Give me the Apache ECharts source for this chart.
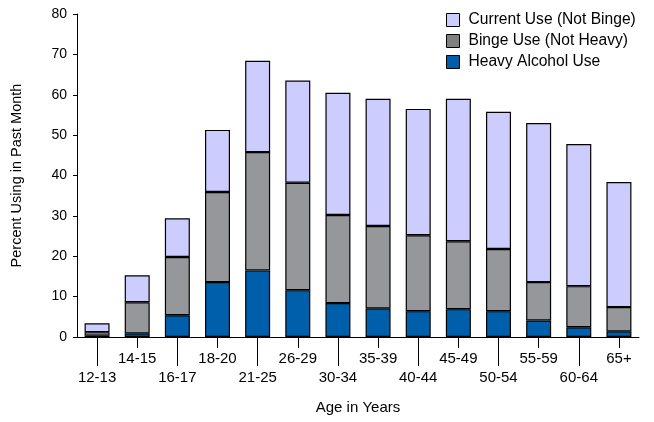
<!DOCTYPE html>
<html>
<head>
<meta charset="utf-8">
<script src="https://cdn.jsdelivr.net/npm/echarts@6/dist/echarts.min.js"></script>
<style>
html,body{margin:0;padding:0;background:#fff;}
#chart{width:654px;height:422px;}
</style>
</head>
<body>
<div id="chart"></div>
<script>
const categories = ['12-13','14-15','16-17','18-20','21-25','26-29','30-34','35-39','40-44','45-49','50-54','55-59','60-64','65+'];
const heavyUse   = [0.3, 0.9, 5.4, 13.6, 16.5, 11.6, 8.4, 7.1, 6.4, 6.9, 6.4, 4.1, 2.4, 1.4];
const bingeUse   = [0.9, 7.7, 14.4, 22.3, 29.3, 26.6, 21.8, 20.4, 18.8, 16.8, 15.4, 9.5, 10.2, 6.0];
const currentUse = [2.2, 6.7, 9.6, 15.4, 22.6, 25.3, 30.3, 31.5, 31.3, 35.3, 34.0, 39.4, 35.2, 31.0];
const yTicks = [0, 10, 20, 30, 40, 50, 60, 70, 80];

const FONT = 'Liberation Sans, Arial, sans-serif';
const chart = echarts.init(document.getElementById('chart'), null, {renderer: 'canvas'});
const border = {borderColor: '#000', borderWidth: 1.2};

chart.setOption({
  animation: false,
  backgroundColor: '#fff',
  grid: {left: 77, right: 15, top: 14, bottom: 85, containLabel: false},
  legend: {
    orient: 'vertical',
    left: 441,
    top: 7,
    itemWidth: 13,
    itemHeight: 13,
    itemGap: 5,
    icon: 'rect',
    textStyle: {fontFamily: FONT, fontSize: 15.6, color: '#000', padding: [0, 0, 0, 4]},
    data: [
      {name: 'Current Use (Not Binge)', itemStyle: {color: '#CCCCFF', borderColor: '#000', borderWidth: 1}},
      {name: 'Binge Use (Not Heavy)', itemStyle: {color: '#808080', borderColor: '#000', borderWidth: 1}},
      {name: 'Heavy Alcohol Use', itemStyle: {color: '#005FAB', borderColor: '#000', borderWidth: 1}}
    ]
  },
  xAxis: [
    {
      type: 'category',
      data: categories,
      position: 'bottom',
      axisLine: {show: true, lineStyle: {color: '#000', width: 1}},
      axisTick: {show: true, alignWithLabel: true, length: 29, lineStyle: {color: '#000'},
                 interval: function (i) { return i % 2 === 0; }},
      axisLabel: {interval: function (i) { return i % 2 === 0; }, margin: 33,
                  fontFamily: FONT, fontSize: 15, color: '#000'},
      name: 'Age in Years',
      nameLocation: 'middle',
      nameGap: 63,
      nameTextStyle: {fontFamily: FONT, fontSize: 15, color: '#000'}
    },
    {
      type: 'category',
      data: categories,
      position: 'bottom',
      axisLine: {show: false},
      axisTick: {show: true, alignWithLabel: true, length: 11, lineStyle: {color: '#000'},
                 interval: function (i) { return i % 2 === 1; }},
      axisLabel: {interval: function (i) { return i % 2 === 1; }, margin: 14,
                  fontFamily: FONT, fontSize: 15, color: '#000'}
    }
  ],
  yAxis: {
    type: 'value',
    min: yTicks[0],
    max: yTicks[yTicks.length - 1],
    interval: 10,
    splitLine: {show: false},
    axisLine: {show: true, lineStyle: {color: '#000', width: 1}},
    axisTick: {show: true, length: 4, lineStyle: {color: '#000'}},
    axisLabel: {margin: 10, fontFamily: FONT, fontSize: 14, color: '#000'},
    name: 'Percent Using in Past Month',
    nameLocation: 'middle',
    nameGap: 53,
    nameTextStyle: {fontFamily: FONT, fontSize: 14.5, color: '#000'}
  },
  series: [
    {name: 'Heavy Alcohol Use', type: 'bar', stack: 'a', barWidth: 25, xAxisIndex: 0,
     itemStyle: Object.assign({color: '#005FAB'}, border), data: heavyUse},
    {name: 'Binge Use (Not Heavy)', type: 'bar', stack: 'a', barWidth: 25, xAxisIndex: 0,
     itemStyle: Object.assign({color: '#96979B'}, border), data: bingeUse},
    {name: 'Current Use (Not Binge)', type: 'bar', stack: 'a', barWidth: 25, xAxisIndex: 0,
     itemStyle: Object.assign({color: '#CCCCFF'}, border), data: currentUse}
  ]
});
</script>
</body>
</html>
